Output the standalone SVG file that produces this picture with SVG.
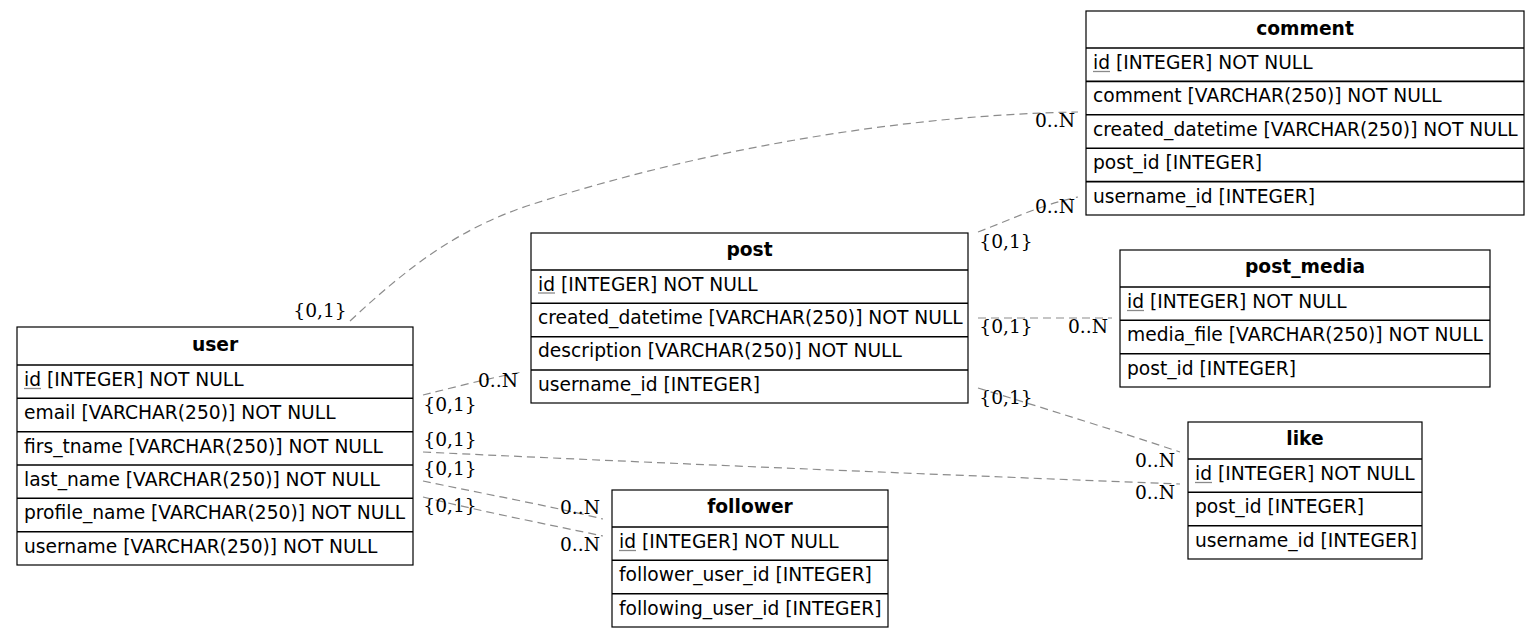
<svg xmlns="http://www.w3.org/2000/svg" width="1540" height="637" viewBox="0 0 1540 637">
  <style>
    .box { fill: #ffffff; stroke: #000000; stroke-width: 1.2; }
    .sep { stroke: #000000; stroke-width: 1.6; }
    .title { font-family: "DejaVu Sans", sans-serif; font-size: 18.67px; font-weight: bold; text-anchor: middle; fill: #000; }
    .col { font-family: "DejaVu Sans", sans-serif; font-size: 18.67px; fill: #000; }
    .ul { stroke: #8a8a8a; stroke-width: 1.3; }
    .edge { fill: none; stroke: #8c8c8c; stroke-width: 1.2; stroke-dasharray: 8,5; }
    .card { font-family: "DejaVu Serif", serif; font-size: 18.67px; fill: #000; text-anchor: middle; }
  </style>

  <!-- relationships -->
  <g id="edges">
    <path class="edge" d="M350,321 C410,265 460,228 530,205 C700,150 900,115 1078,112"/>
    <path class="edge" d="M978,232 C1010,220 1040,205 1078,197"/>
    <path class="edge" d="M978,318 L1112,318"/>
    <path class="edge" d="M978,388 C1050,410 1120,432 1180,452"/>
    <path class="edge" d="M423,395 C455,387 490,378 522,372"/>
    <path class="edge" d="M423,452 C700,465 950,475 1180,484"/>
    <path class="edge" d="M423,481 C480,493 550,506 603,519"/>
    <path class="edge" d="M423,497 C480,511 550,525 603,536"/>

    <text class="card" x="320" y="317">{0,1}</text>
    <text class="card" x="1055" y="127">0..N</text>
    <text class="card" x="1055" y="213">0..N</text>
    <text class="card" x="1006" y="248">{0,1}</text>
    <text class="card" x="1006" y="333">{0,1}</text>
    <text class="card" x="1088" y="333">0..N</text>
    <text class="card" x="1006" y="404">{0,1}</text>
    <text class="card" x="1155" y="467">0..N</text>
    <text class="card" x="498" y="387">0..N</text>
    <text class="card" x="450" y="411">{0,1}</text>
    <text class="card" x="450" y="446">{0,1}</text>
    <text class="card" x="1155" y="499">0..N</text>
    <text class="card" x="450" y="475">{0,1}</text>
    <text class="card" x="580" y="514">0..N</text>
    <text class="card" x="450" y="512">{0,1}</text>
    <text class="card" x="580" y="551">0..N</text>
  </g>

  <!-- user table -->
  <g id="user" transform="translate(17,327)">
    <rect class="box" x="0" y="0" width="396" height="238"/>
    <line class="sep" x1="0" y1="38" x2="396" y2="38"/>
    <line class="sep" x1="0" y1="71.3" x2="396" y2="71.3"/>
    <line class="sep" x1="0" y1="104.7" x2="396" y2="104.7"/>
    <line class="sep" x1="0" y1="138" x2="396" y2="138"/>
    <line class="sep" x1="0" y1="171.3" x2="396" y2="171.3"/>
    <line class="sep" x1="0" y1="204.7" x2="396" y2="204.7"/>
    <text class="title" x="198" y="23.5">user</text>
    <text class="col" x="7" y="59">id [INTEGER] NOT NULL</text>
    <line class="ul" x1="7" y1="61.5" x2="24" y2="61.5"/>
    <text class="col" x="7" y="92.3">email [VARCHAR(250)] NOT NULL</text>
    <text class="col" x="7" y="125.7">firs_tname [VARCHAR(250)] NOT NULL</text>
    <text class="col" x="7" y="159">last_name [VARCHAR(250)] NOT NULL</text>
    <text class="col" x="7" y="192.3">profile_name [VARCHAR(250)] NOT NULL</text>
    <text class="col" x="7" y="225.7">username [VARCHAR(250)] NOT NULL</text>
  </g>

  <!-- post table -->
  <g id="post" transform="translate(531,233)">
    <rect class="box" x="0" y="0" width="437" height="170"/>
    <line class="sep" x1="0" y1="37" x2="437" y2="37"/>
    <line class="sep" x1="0" y1="70.3" x2="437" y2="70.3"/>
    <line class="sep" x1="0" y1="103.7" x2="437" y2="103.7"/>
    <line class="sep" x1="0" y1="137" x2="437" y2="137"/>
    <text class="title" x="218.5" y="22.5">post</text>
    <text class="col" x="7" y="57.5">id [INTEGER] NOT NULL</text>
    <line class="ul" x1="7" y1="60" x2="24" y2="60"/>
    <text class="col" x="7" y="90.8">created_datetime [VARCHAR(250)] NOT NULL</text>
    <text class="col" x="7" y="124.2">description [VARCHAR(250)] NOT NULL</text>
    <text class="col" x="7" y="157.5">username_id [INTEGER]</text>
  </g>

  <!-- comment table -->
  <g id="comment" transform="translate(1086,11)">
    <rect class="box" x="0" y="0" width="438" height="204"/>
    <line class="sep" x1="0" y1="37" x2="438" y2="37"/>
    <line class="sep" x1="0" y1="70.4" x2="438" y2="70.4"/>
    <line class="sep" x1="0" y1="103.8" x2="438" y2="103.8"/>
    <line class="sep" x1="0" y1="137.2" x2="438" y2="137.2"/>
    <line class="sep" x1="0" y1="170.6" x2="438" y2="170.6"/>
    <text class="title" x="219" y="23.5">comment</text>
    <text class="col" x="7" y="58">id [INTEGER] NOT NULL</text>
    <line class="ul" x1="7" y1="60.5" x2="24" y2="60.5"/>
    <text class="col" x="7" y="91.4">comment [VARCHAR(250)] NOT NULL</text>
    <text class="col" x="7" y="124.8">created_datetime [VARCHAR(250)] NOT NULL</text>
    <text class="col" x="7" y="158.2">post_id [INTEGER]</text>
    <text class="col" x="7" y="191.6">username_id [INTEGER]</text>
  </g>

  <!-- post_media table -->
  <g id="post_media" transform="translate(1120,250)">
    <rect class="box" x="0" y="0" width="370" height="137"/>
    <line class="sep" x1="0" y1="37" x2="370" y2="37"/>
    <line class="sep" x1="0" y1="70.3" x2="370" y2="70.3"/>
    <line class="sep" x1="0" y1="103.7" x2="370" y2="103.7"/>
    <text class="title" x="185" y="23">post_media</text>
    <text class="col" x="7" y="58">id [INTEGER] NOT NULL</text>
    <line class="ul" x1="7" y1="60.5" x2="24" y2="60.5"/>
    <text class="col" x="7" y="91.3">media_file [VARCHAR(250)] NOT NULL</text>
    <text class="col" x="7" y="124.7">post_id [INTEGER]</text>
  </g>

  <!-- like table -->
  <g id="like" transform="translate(1188,422)">
    <rect class="box" x="0" y="0" width="234" height="137"/>
    <line class="sep" x1="0" y1="37" x2="234" y2="37"/>
    <line class="sep" x1="0" y1="70.3" x2="234" y2="70.3"/>
    <line class="sep" x1="0" y1="103.7" x2="234" y2="103.7"/>
    <text class="title" x="117" y="23">like</text>
    <text class="col" x="7" y="58">id [INTEGER] NOT NULL</text>
    <line class="ul" x1="7" y1="60.5" x2="24" y2="60.5"/>
    <text class="col" x="7" y="91.3">post_id [INTEGER]</text>
    <text class="col" x="7" y="124.7">username_id [INTEGER]</text>
  </g>

  <!-- follower table -->
  <g id="follower" transform="translate(612,490)">
    <rect class="box" x="0" y="0" width="276" height="137"/>
    <line class="sep" x1="0" y1="37" x2="276" y2="37"/>
    <line class="sep" x1="0" y1="70.3" x2="276" y2="70.3"/>
    <line class="sep" x1="0" y1="103.7" x2="276" y2="103.7"/>
    <text class="title" x="138" y="23">follower</text>
    <text class="col" x="7" y="58">id [INTEGER] NOT NULL</text>
    <line class="ul" x1="7" y1="60.5" x2="24" y2="60.5"/>
    <text class="col" x="7" y="91.3">follower_user_id [INTEGER]</text>
    <text class="col" x="7" y="124.7">following_user_id [INTEGER]</text>
  </g>
</svg>
